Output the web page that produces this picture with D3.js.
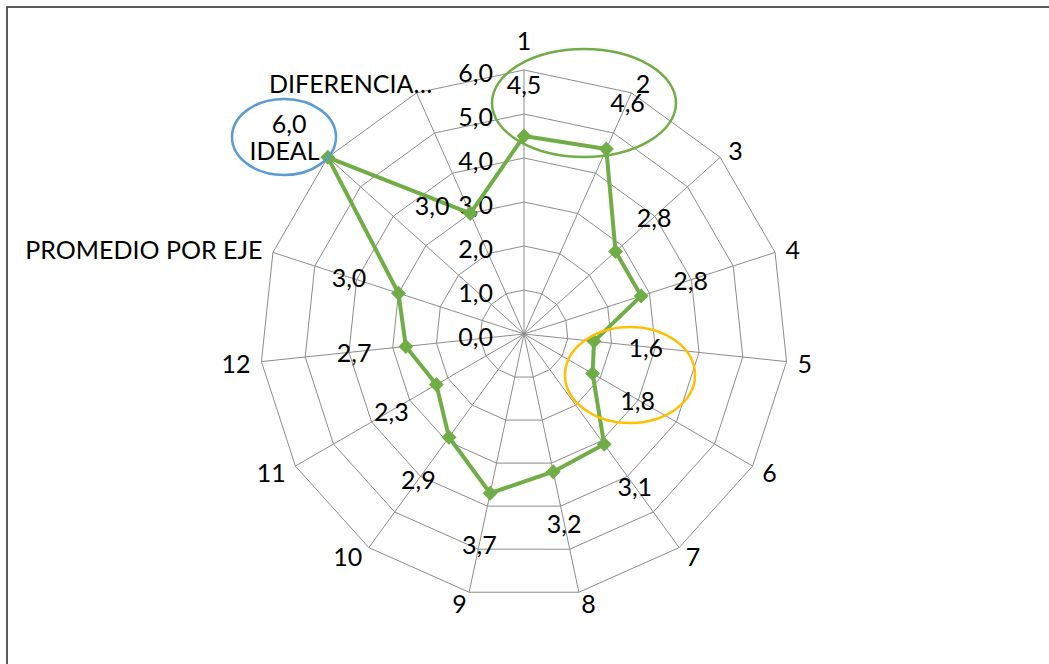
<!DOCTYPE html>
<html lang="es">
<head>
  <meta charset="UTF-8">
  <title>Radar por eje</title>
  <style>
    body { margin: 0; background: #fff; }
    svg text { font-family: "Lato", "Open Sans", sans-serif; font-size: 25px; fill: #000; }
  </style>
</head>
<body>
  <svg class="radar"></svg>
  <script src="https://cdn.jsdelivr.net/npm/d3@7/dist/d3.min.js"></script>
  <script>
    // data
    var categories = ["1", "2", "3", "4", "5", "6", "7", "8", "9", "10", "11", "12",
                      "PROMEDIO POR EJE", "IDEAL", "DIFERENCIA\u2026"];
    var values = [4.5, 4.6, 2.8, 2.8, 1.6, 1.8, 3.1, 3.2, 3.7, 2.9, 2.3, 2.7, 3.0, 6.0, 3.0];
    var ticks = [0, 1, 2, 3, 4, 5, 6];

    var w = 1049,
        h = 664,
        cx = 524,
        cy = 334,
        R = 264,
        green = "#70AD47";

    var svg = d3.select(".radar").attr("width", w).attr("height", h);

    var r = d3.scaleLinear().domain([0, 6]).range([0, R]);
    var angle = d3.scaleLinear().domain([0, categories.length]).range([0, 2 * Math.PI]);
    var fmt = function (v) { return d3.format(".1f")(v).replace(".", ","); };

    function pt(i, rad) {
      var a = angle(i);
      return [cx + rad * Math.sin(a), cy - rad * Math.cos(a)];
    }

    // frame (only top and left edges show in the picture)
    svg.append("rect")
      .attr("x", 7).attr("y", 7).attr("width", 1200).attr("height", 800)
      .attr("fill", "none").attr("stroke", "#333").attr("stroke-width", 1.6);

    var grid = svg.append("g").attr("stroke", "#8c8c8c").attr("stroke-width", 1).attr("fill", "none");

    // rings
    grid.selectAll("polygon")
      .data(ticks.slice(1))
      .enter()
      .append("polygon")
        .attr("points", function (t) {
          return categories.map(function (c, i) { return pt(i, r(t)).join(","); }).join(" ");
        });

    // spokes
    grid.selectAll("line")
      .data(categories)
      .enter()
      .append("line")
        .attr("x1", cx).attr("y1", cy)
        .attr("x2", function (c, i) { return pt(i, R)[0]; })
        .attr("y2", function (c, i) { return pt(i, R)[1]; });

    // value axis labels
    svg.append("g").selectAll("text")
      .data(ticks)
      .enter()
      .append("text")
        .attr("x", cx - 31)
        .attr("y", function (t) { return cy - r(t) + 2; })
        .attr("text-anchor", "end")
        .attr("dominant-baseline", "central")
        .text(fmt);

    // category labels
    var catNudge = { 14: [20, 0] };
    var catG = svg.append("g");
    categories.forEach(function (c, i) {
      var a = angle(i), s = Math.sin(a), co = Math.cos(a);
      var p = pt(i, R);
      var t = catG.append("text").text(c).attr("dominant-baseline", "central");
      var tw = t.node().getComputedTextLength();
      var sg = Math.abs(s) < 0.01 ? 0 : Math.sign(s);
      var x = p[0] + s * 11 + sg * tw / 2;
      var y = p[1] - co * 11 - (sg === 0 ? 19 * co : 0);
      if (catNudge[i]) { x += catNudge[i][0]; y += catNudge[i][1]; }
      t.attr("x", x).attr("y", y).attr("text-anchor", "middle");
    });

    // series line
    var line = d3.lineRadial()
      .angle(function (d, i) { return angle(i); })
      .radius(function (d) { return r(d); })
      .curve(d3.curveLinearClosed);

    svg.append("path")
      .attr("transform", "translate(" + cx + "," + cy + ")")
      .attr("d", line(values))
      .attr("fill", "none")
      .attr("stroke", green)
      .attr("stroke-width", 4)
      .attr("stroke-linejoin", "round");

    // markers
    svg.append("g").selectAll("path")
      .data(values)
      .enter()
      .append("path")
        .attr("d", d3.symbol().type(d3.symbolSquare).size(112))
        .attr("transform", function (d, i) {
          var p = pt(i, r(d));
          return "translate(" + p[0] + "," + p[1] + ") rotate(45)";
        })
        .attr("fill", green);

    // data labels, pushed out along the spoke
    var labelNudge = { 14: [-17, 39] };
    svg.append("g").selectAll("text")
      .data(values)
      .enter()
      .append("text")
        .attr("x", function (d, i) { return pt(i, r(d) + 52)[0] + (labelNudge[i] ? labelNudge[i][0] : 0); })
        .attr("y", function (d, i) { return pt(i, r(d) + 52)[1] + (labelNudge[i] ? labelNudge[i][1] : 0); })
        .attr("text-anchor", "middle")
        .attr("dominant-baseline", "central")
        .text(fmt);

    // hand drawn highlight ellipses (offsets from chart centre)
    var marks = [
      { dx: 60, dy: -231, rx: 92, ry: 54, color: green },
      { dx: 106, dy: 41, rx: 65, ry: 48, color: "#FFC000" },
      { dx: -240, dy: -197, rx: 52, ry: 38, color: "#5B9BD5" }
    ];
    svg.append("g").selectAll("ellipse")
      .data(marks)
      .enter()
      .append("ellipse")
        .attr("cx", function (m) { return cx + m.dx; })
        .attr("cy", function (m) { return cy + m.dy; })
        .attr("rx", function (m) { return m.rx; })
        .attr("ry", function (m) { return m.ry; })
        .attr("fill", "none")
        .attr("stroke", function (m) { return m.color; })
        .attr("stroke-width", 2.5);
  </script>
</body>
</html>
